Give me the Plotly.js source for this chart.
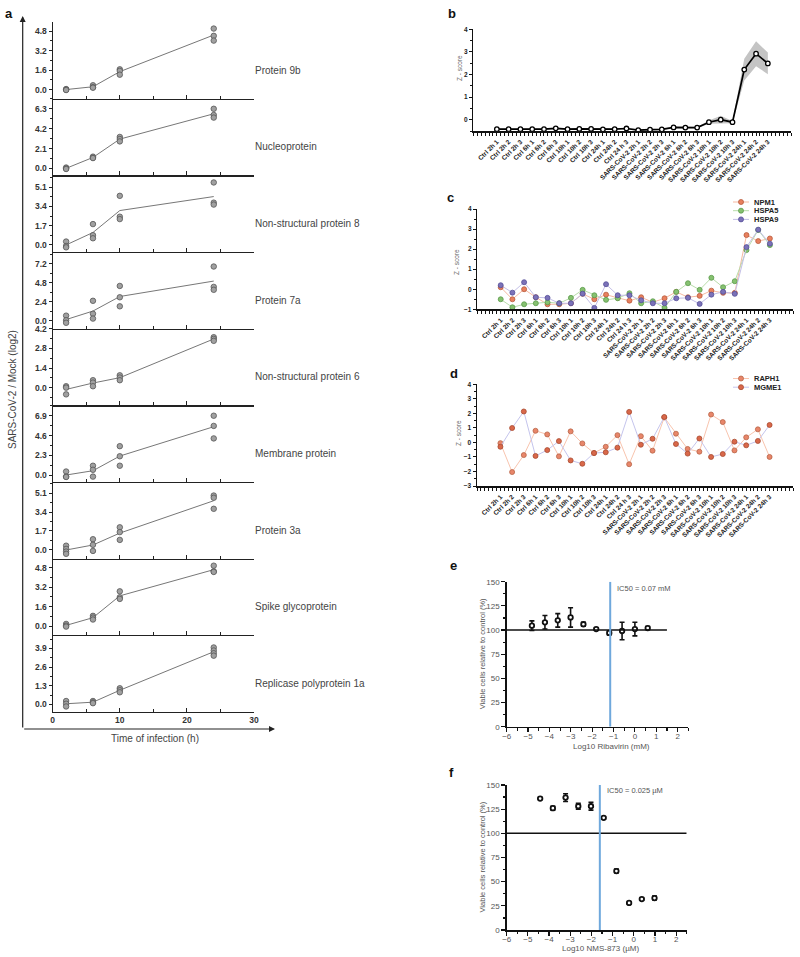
<!DOCTYPE html>
<html>
<head>
<meta charset="utf-8">
<script src="https://cdn.plot.ly/plotly-3.0.1.min.js"></script>
<style>
  html, body { margin: 0; padding: 0; background: #fff; }
  #chart { width: 800px; height: 957px; }
</style>
</head>
<body>
<div id="chart"></div>
<script>
// ---- panel a: viral protein log2 ratios, replicates per time point ----
const hours = [2, 6, 10, 24];
const proteinNames = ['Protein 9b', 'Nucleoprotein', 'Non-structural protein 8', 'Protein 7a',
  'Non-structural protein 6', 'Membrane protein', 'Protein 3a', 'Spike glycoprotein',
  'Replicase polyprotein 1a'];
const protein9b = [[0.05, 0.0, -0.03], [0.36, 0.2, 0.16], [1.67, 1.54, 1.23], [5.02, 4.42, 4.03]];
const nucleoprotein = [[0.1, 0.0, -0.05], [1.25, 1.15, 1.1], [3.33, 3.11, 2.86], [6.3, 5.65, 5.37]];
const nsp8 = [[0.3, -0.09, -0.21], [1.84, 0.86, 0.59], [4.33, 2.49, 2.28], [5.51, 3.73, 3.56]];
const protein7a = [[0.62, 0.04, -0.29], [2.51, 0.86, 0.25], [4.4, 2.96, 1.81], [6.87, 4.28, 3.91]];
const nsp6 = [[0.1, 0.0, -0.48], [0.53, 0.36, 0.1], [0.88, 0.72, 0.53], [3.6, 3.48, 3.34]];
const membrane = [[0.43, -0.16, -0.2], [1.1, 0.63, -0.16], [3.37, 2.2, 1.1], [6.9, 5.72, 4.27]];
const protein3a = [[0.38, 0.09, -0.15, -0.35], [0.96, 0.46, -0.09], [2.03, 1.6, 0.9], [4.88, 4.68, 3.69]];
const spike = [[0.19, 0.05, -0.03], [0.85, 0.71, 0.55], [2.86, 2.37, 2.24], [4.96, 4.5, 4.45]];
const replicase = [[0.24, 0.05, -0.14], [0.24, 0.15, 0.09], [1.13, 0.99, 0.85], [3.97, 3.76, 3.57, 3.4]];
const aTickStep = [1.6, 2.1, 1.7, 2.4, 1.4, 2.3, 1.7, 1.6, 1.3];
const aRanges = [[-0.74, 5.56], [-0.72, 7.37], [-0.62, 6.14], [-1.03, 8.72], [-1.26, 4.21],
  [-0.78, 8.11], [-0.78, 6.1], [-0.74, 5.54], [-0.52, 4.82]];

// ---- panels b-d: samples ----
const sampleLabels = ['Ctrl 2h 1', 'Ctrl 2h 2', 'Ctrl 2h 3', 'Ctrl 6h 1', 'Ctrl 6h 2', 'Ctrl 6h 3',
  'Ctrl 10h 1', 'Ctrl 10h 2', 'Ctrl 10h 3', 'Ctrl 24h 1', 'Ctrl 24h 2', 'Ctrl 24 h 3',
  'SARS-CoV-2 2h 1', 'SARS-CoV-2 2h 2', 'SARS-CoV-2 2h 3', 'SARS-CoV-2 6h 1', 'SARS-CoV-2 6h 2',
  'SARS-CoV-2 6h 3', 'SARS-CoV-2 10h 1', 'SARS-CoV-2 10h 2', 'SARS-CoV-2 10h 3',
  'SARS-CoV-2 24h 1', 'SARS-CoV-2 24h 2', 'SARS-CoV-2 24h 3'];
const zMean = [-0.42, -0.42, -0.42, -0.42, -0.42, -0.38, -0.42, -0.41, -0.41, -0.43, -0.42, -0.39,
  -0.46, -0.44, -0.43, -0.34, -0.35, -0.35, -0.11, 0.0, -0.11, 2.22, 2.92, 2.49];
const zSd = [0.03, 0.03, 0.03, 0.03, 0.03, 0.03, 0.03, 0.03, 0.03, 0.03, 0.03, 0.03,
  0.03, 0.03, 0.03, 0.03, 0.03, 0.03, 0.07, 0.17, 0.05, 0.48, 0.55, 0.48];

const cNames = ['NPM1', 'HSPA5', 'HSPA9'];
const npm1 = [0.1, -0.5, 0.0, -0.4, -0.75, -0.75, -0.7, -0.23, -0.5, -0.27, -0.43, -0.57,
  -0.4, -0.65, -0.45, -0.13, -0.4, -0.33, -0.07, -0.18, -0.18, 2.7, 2.4, 2.53];
const hspa5 = [-0.5, -0.9, -0.75, -0.7, -0.65, -0.7, -0.43, -0.03, -0.3, -0.53, -0.45, -0.2,
  -0.7, -0.6, -0.93, -0.13, 0.3, -0.03, 0.57, 0.1, 0.4, 1.95, 2.95, 2.2];
const hspa9 = [0.2, -0.17, 0.35, -0.4, -0.43, -0.7, -0.7, -0.22, -0.93, 0.25, -0.3, -0.3,
  -0.55, -0.7, -0.7, -0.45, -0.43, -0.73, -0.27, -0.13, -0.23, 2.1, 2.97, 2.27];

const dNames = ['RAPH1', 'MGME1'];
const raph1 = [-0.05, -2.04, -0.87, 0.8, 0.55, -0.96, 0.76, -0.07, -0.73, -0.3, 0.5, -1.5,
  0.43, -0.57, 1.72, 0.6, -0.45, -0.64, 1.92, 1.4, -0.55, 0.35, 0.9, -1.0];
const mgme1 = [-0.3, 0.99, 2.13, -0.93, -0.53, 0.09, -1.24, -1.47, -0.73, -0.68, -0.36, 2.1,
  -0.16, 0.25, 1.75, -0.11, -0.77, 0.27, -1.0, -0.8, 0.05, -0.2, 0.1, 1.2];

// ---- panels e-f: viability ----
const controlLevel = 100;
const ribaLogConc = [-4.82, -4.21, -3.61, -3.01, -2.41, -1.81, -1.2, -0.6, 0, 0.6];
const ribaViable = [104.5, 108, 110, 113, 106, 101, 97, 99, 101, 102];
const ribaErr = [5, 7, 7, 10, 2, 1, 2, 9, 7, 1.5];
const ribaIC50 = 0.07;
const nmsLogConc = [-4.42, -3.82, -3.22, -2.62, -2.02, -1.42, -0.82, -0.22, 0.38, 0.98];
const nmsViable = [136, 126, 137, 128, 128, 116, 61, 28, 32, 33];
const nmsErr = [1, 2, 4, 3, 4, 1, 2, 1, 1, 2];
const nmsIC50 = 0.025;

// ---------------------------------------------------------------
const W = 800, H = 957;
const FONT = 'Liberation Sans, Arial, sans-serif';
function px(x) { return x / W; }
function py(y) { return 1 - y / H; }
function sfx(n) { return n === 1 ? '' : String(n); }

const data = [];
const layout = {
  width: W, height: H,
  margin: {l: 0, r: 0, t: 0, b: 0},
  paper_bgcolor: '#fff', plot_bgcolor: 'rgba(0,0,0,0)',
  showlegend: false,
  font: {family: FONT, color: '#333'},
  annotations: [], shapes: []
};
const ann = layout.annotations, shp = layout.shapes;

function label(text, x, y, opts) {
  ann.push(Object.assign({text: text, x: px(x), y: py(y), xref: 'paper', yref: 'paper',
    showarrow: false, xanchor: 'center', yanchor: 'middle',
    font: {family: FONT, size: 8, color: '#444'}}, opts || {}));
}

// panel a
const aSeries = [protein9b, nucleoprotein, nsp8, protein7a, nsp6, membrane, protein3a, spike, replicase];
const aTickFont = {family: FONT, size: 8.5, color: '#333', weight: 'bold'};
aSeries.forEach(function(reps, i) {
  const n = i + 1, s = sfx(n);
  const top = 22 + 76.66 * i, bottom = top + 76.66;
  const xs = [], ys = [];
  reps.forEach(function(vals, j) { vals.forEach(function(v) { xs.push(hours[j]); ys.push(v); }); });
  const means = reps.map(function(vals) { return vals.reduce(function(a, b) { return a + b; }, 0) / vals.length; });
  data.push({x: hours, y: means, xaxis: 'x' + s, yaxis: 'y' + s, mode: 'lines', type: 'scatter',
    line: {color: '#777', width: 1}, hoverinfo: 'skip'});
  data.push({x: xs, y: ys, xaxis: 'x' + s, yaxis: 'y' + s, mode: 'markers', type: 'scatter',
    marker: {size: 5.5, color: '#a0a0a0', line: {color: '#555', width: 0.8}}});
  layout['xaxis' + s] = {domain: [px(52.7), px(254)], range: [0, 30], anchor: 'y' + s,
    showline: true, linecolor: '#222', linewidth: 1.2, showgrid: false, zeroline: false,
    ticks: 'inside', ticklen: 4, tickcolor: '#222', tickwidth: 1, tickmode: 'linear', tick0: 0, dtick: 10,
    minor: {ticks: 'inside', ticklen: 3, tickcolor: '#222', dtick: 5, showgrid: false},
    showticklabels: i === 8, tickfont: aTickFont};
  layout['yaxis' + s] = {domain: [py(bottom), py(top)], range: aRanges[i], anchor: 'x' + s,
    showline: true, linecolor: '#222', linewidth: 1.2, showgrid: false, zeroline: false,
    ticks: 'outside', ticklen: 3, tickcolor: '#222', tickmode: 'linear', tick0: 0, dtick: aTickStep[i],
    tickformat: '.1f', minor: {ticks: 'outside', ticklen: 2, tickcolor: '#222', dtick: aTickStep[i] / 2, showgrid: false},
    tickfont: aTickFont};
  label(proteinNames[i], 253, 70.3 + 76.66 * i, {xanchor: 'left', font: {family: FONT, size: 10, color: '#444'}});
});
// big arrows
ann.push({text: '', x: px(22.7), y: py(16), xref: 'paper', yref: 'paper', ax: 0, ay: 713,
  axref: 'pixel', ayref: 'pixel', showarrow: true, arrowhead: 2, arrowsize: 1, arrowwidth: 1.2, arrowcolor: '#222', standoff: 0});
ann.push({text: '', x: px(275), y: py(729), xref: 'paper', yref: 'paper', ax: -252.3, ay: 0,
  axref: 'pixel', ayref: 'pixel', showarrow: true, arrowhead: 2, arrowsize: 1, arrowwidth: 1.2, arrowcolor: '#222', standoff: 0});
label('SARS-CoV-2 / Mock (log2)', 12, 390, {textangle: -90, font: {family: FONT, size: 10, color: '#444'}});
label('Time of infection (h)', 155, 738, {font: {family: FONT, size: 10, color: '#444'}});

// panels b, c, d : shared category axis style
const catVals = [], catText = [];
for (let k = -6; k <= 75; k++) {
  catVals.push(k / 3);
  catText.push(k % 3 === 0 && k >= 0 && k / 3 < sampleLabels.length ? sampleLabels[k / 3] : '');
}
const idx = sampleLabels.map(function(_, i) { return i; });
function catAxis(n, x0, x1) {
  return {domain: [px(x0), px(x1)], range: [-2, 25], anchor: 'y' + n,
    showline: true, linecolor: '#111', linewidth: 1.5, showgrid: false, zeroline: false,
    tickmode: 'array', tickvals: catVals, ticktext: catText, tickangle: -45,
    ticks: 'outside', ticklen: 3, tickcolor: '#111', tickwidth: 1,
    tickfont: {family: FONT, size: 6.5, color: '#222', weight: 'bold'}};
}
function zAxis(n, top, bottom, range) {
  return {domain: [py(bottom), py(top)], range: range, anchor: 'x' + n,
    showline: true, linecolor: '#111', linewidth: 1.5, showgrid: false, zeroline: false,
    tickmode: 'linear', tick0: 0, dtick: 1, ticks: 'outside', ticklen: 3, tickcolor: '#111',
    minor: {ticks: 'outside', ticklen: 2, tickcolor: '#111', dtick: 0.5, showgrid: false},
    tickfont: {family: FONT, size: 6.5, color: '#222', weight: 'bold'}};
}

// b
data.push({x: idx, y: zMean.map(function(m, i) { return m + zSd[i]; }), xaxis: 'x10', yaxis: 'y10',
  mode: 'lines', line: {width: 0, color: 'rgba(0,0,0,0)'}, hoverinfo: 'skip'});
data.push({x: idx, y: zMean.map(function(m, i) { return m - zSd[i]; }), xaxis: 'x10', yaxis: 'y10',
  mode: 'lines', line: {width: 0, color: 'rgba(0,0,0,0)'}, fill: 'tonexty', fillcolor: '#c4c4c4', hoverinfo: 'skip'});
data.push({x: idx, y: zMean, xaxis: 'x10', yaxis: 'y10', mode: 'lines+markers',
  line: {color: '#000', width: 1.7}, marker: {size: 4.5, color: '#fff', line: {color: '#000', width: 1.3}}});
layout.xaxis10 = catAxis(10, 473.3, 791.4);
layout.yaxis10 = zAxis(10, 29.3, 131, [-0.5, 4]);
label('Z - score', 460, 68, {textangle: -90, font: {family: FONT, size: 6.5, color: '#666'}});

// c
const cVals = [npm1, hspa5, hspa9];
const cLine = ['#f5b9a2', '#b8dcaa', '#c3bfe6'];
const cFill = ['#e8805e', '#86c170', '#7b72b8'];
const cEdge = ['#b85a3c', '#5a9a4a', '#564f99'];
cVals.forEach(function(v, k) {
  data.push({x: idx, y: v, xaxis: 'x11', yaxis: 'y11', mode: 'lines+markers', name: cNames[k],
    line: {color: cLine[k], width: 1}, marker: {size: 5, color: cFill[k], line: {color: cEdge[k], width: 0.8}}});
});
layout.xaxis11 = catAxis(11, 477.3, 793.3);
layout.yaxis11 = zAxis(11, 209, 309.3, [-1, 4]);
label('Z - score', 457, 262, {textangle: -90, font: {family: FONT, size: 6.5, color: '#666'}});

// d
const dVals = [raph1, mgme1];
const dLine = ['#f8c4ae', '#c4c4ec'];
const dFill = ['#e8866a', '#d9684a'];
const dEdge = ['#b86448', '#a84a30'];
dVals.forEach(function(v, k) {
  data.push({x: idx, y: v, xaxis: 'x12', yaxis: 'y12', mode: 'lines+markers', name: dNames[k],
    line: {color: dLine[k], width: 1}, marker: {size: 5, color: dFill[k], line: {color: dEdge[k], width: 0.8}}});
});
layout.xaxis12 = catAxis(12, 477, 793);
layout.yaxis12 = zAxis(12, 384.3, 486, [-3, 4]);
label('Z - score', 458, 433, {textangle: -90, font: {family: FONT, size: 6.5, color: '#666'}});

// manual legends for c and d
function legend(names, lines, fills, edges, y0) {
  names.forEach(function(nm, k) {
    const y = y0 + 8.7 * k;
    shp.push({type: 'line', xref: 'paper', yref: 'paper', x0: px(733), x1: px(749), y0: py(y), y1: py(y),
      line: {color: lines[k], width: 1}});
    shp.push({type: 'circle', xref: 'paper', yref: 'paper', x0: px(738.5), x1: px(743.5), y0: py(y + 2.5), y1: py(y - 2.5),
      fillcolor: fills[k], line: {color: edges[k], width: 0.8}});
    label(nm, 752, y, {xanchor: 'left', font: {family: FONT, size: 7.5, color: '#222', weight: 'bold'}});
  });
}
legend(cNames, cLine, cFill, cEdge, 202);
legend(dNames, dLine, dFill, dEdge, 378.5);

// e, f
function concAxis(n, x0, x1) {
  return {domain: [px(x0), px(x1)], range: [-6, 2.5], anchor: 'y' + n,
    showline: true, linecolor: '#111', linewidth: 1.5, showgrid: false, zeroline: false,
    tickmode: 'linear', tick0: -6, dtick: 1, ticks: 'outside', ticklen: 4, tickcolor: '#111', tickwidth: 1.2,
    ticklabelstandoff: -3,
    minor: {ticks: 'outside', ticklen: 2.5, tickcolor: '#111', dtick: 0.5, showgrid: false},
    tickfont: {family: FONT, size: 8, color: '#555'}};
}
function viaAxis(n, top, bottom) {
  return {domain: [py(bottom), py(top)], range: [0, 150], anchor: 'x' + n,
    showline: true, linecolor: '#111', linewidth: 1.5, showgrid: false, zeroline: false,
    tickmode: 'linear', tick0: 0, dtick: 25, ticks: 'outside', ticklen: 4, tickcolor: '#111', tickwidth: 1.2,
    minor: {ticks: 'outside', ticklen: 2.5, tickcolor: '#111', dtick: 12.5, showgrid: false},
    tickfont: {family: FONT, size: 8, color: '#555'}};
}
function viability(n, xv, yv, ev, ic50, hEnd, top, bottom, x0, x1, xTitle, xtX, xtY, icText, icX, icY) {
  shp.push({type: 'line', xref: 'x' + n, yref: 'y' + n, x0: -6, x1: hEnd, y0: controlLevel, y1: controlLevel,
    line: {color: '#111', width: 1.5}});
  shp.push({type: 'line', xref: 'x' + n, yref: 'y' + n, x0: Math.log10(ic50), x1: Math.log10(ic50), y0: 0, y1: 150,
    line: {color: '#6fa8dc', width: 2}});
  data.push({x: xv, y: yv, xaxis: 'x' + n, yaxis: 'y' + n, mode: 'markers', type: 'scatter',
    error_y: {type: 'data', array: ev, visible: true, color: '#111', thickness: 1.6, width: 2.5},
    marker: {size: 4.5, color: '#fff', line: {color: '#111', width: 1.8}}});
  layout['xaxis' + n] = concAxis(n, x0, x1);
  layout['yaxis' + n] = viaAxis(n, top, bottom);
  label(xTitle, xtX, xtY, {font: {family: FONT, size: 8, color: '#555'}});
  label('Viable cells relative to control (%)', 482, (top + bottom) / 2,
    {textangle: -90, font: {family: FONT, size: 7.5, color: '#555'}});
  label(icText, icX, icY, {xanchor: 'left', font: {family: FONT, size: 7.5, color: '#555'}});
}
viability(13, ribaLogConc, ribaViable, ribaErr, ribaIC50, 1.5, 581.7, 726.7, 506.7, 688.3,
  'Log10 Ribavirin (mM)', 611, 746, 'IC50 = ' + ribaIC50 + ' mM', 615, 588.5);
viability(14, nmsLogConc, nmsViable, nmsErr, nmsIC50, 2.5, 785, 930, 506.7, 686.7,
  'Log10 NMS-873 (µM)', 600, 948, 'IC50 = ' + nmsIC50 + ' µM', 605, 790);

// panel letters
[['a', 9, 13], ['b', 452, 13], ['c', 450, 197], ['d', 454, 373], ['e', 453, 565], ['f', 452, 772]].forEach(function(p) {
  label(p[0], p[1], p[2], {font: {family: FONT, size: 13, color: '#111', weight: 'bold'}});
});

Plotly.newPlot('chart', data, layout, {displayModeBar: false, staticPlot: true});
</script>
</body>
</html>
